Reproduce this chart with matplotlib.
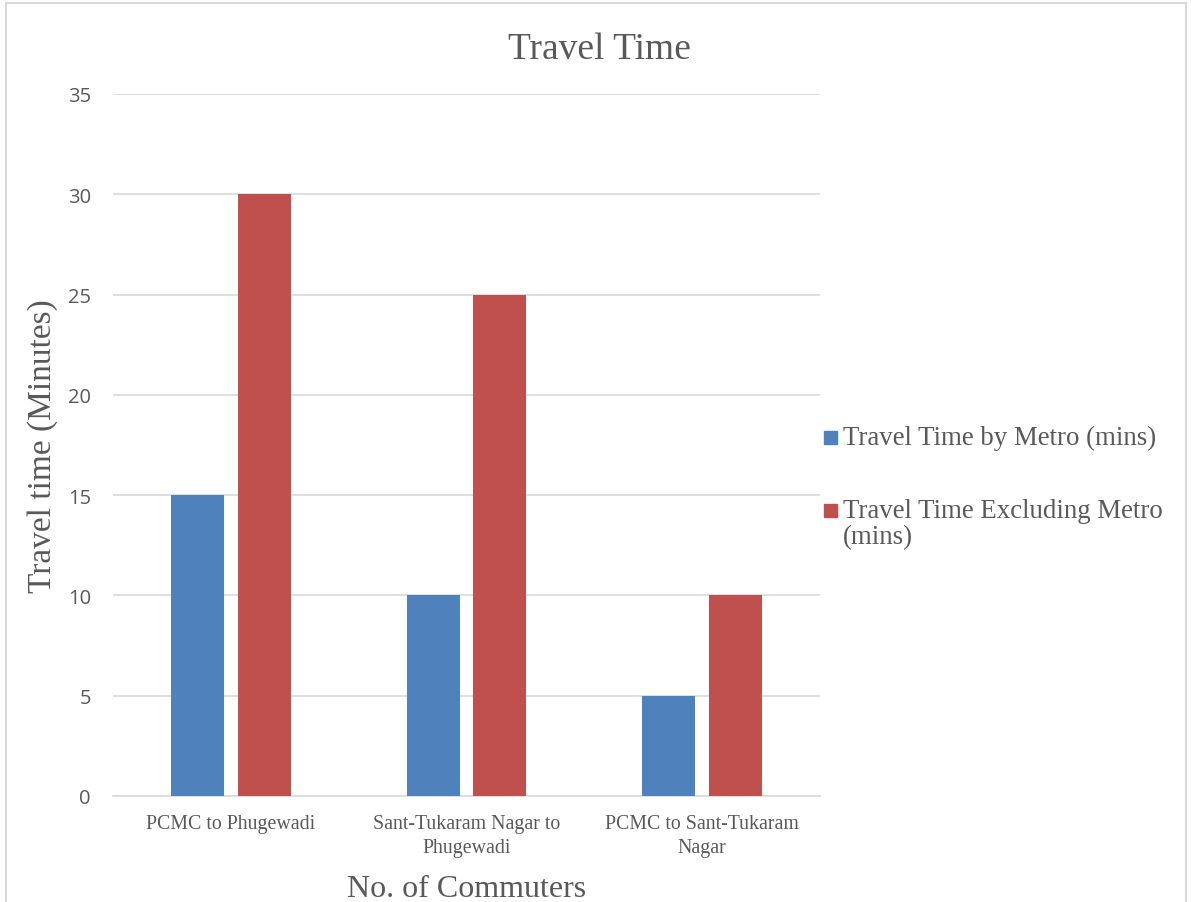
import numpy as np
import matplotlib.pyplot as plt
from matplotlib.lines import Line2D
from matplotlib.patches import Rectangle

categories = ["PCMC to Phugewadi", "Sant-Tukaram Nagar to\nPhugewadi", "PCMC to Sant-Tukaram\nNagar"]
metro = [15, 10, 5]
no_metro = [30, 25, 10]
series_names = ["Travel Time by Metro (mins)", "Travel Time Excluding Metro\n(mins)"]
yticks = [0, 5, 10, 15, 20, 25, 30, 35]

txt = '#595959'
grid_c = '#D9D9D9'
colors = ['#4F81BD', '#C0504D']
serif = 'Liberation Serif'
W, H = 1191, 903

fig = plt.figure(figsize=(W / 100, H / 100), dpi=100)
ax = fig.add_axes([0.0949, 0.1174, 0.5936, 0.7774])

x = np.arange(len(categories))
w = 0.225
off = 0.142
ax.bar(x - off, metro, w, color=colors[0], label=series_names[0], zorder=3)
ax.bar(x + off, no_metro, w, color=colors[1], label=series_names[1], zorder=3)

ax.set_xlim(-0.5, 2.5)
ax.set_ylim(0, 35)
ax.set_yticks(yticks)
ax.yaxis.grid(True, color=grid_c, lw=1.2, zorder=0)
for s in ['top', 'right', 'left']:
    ax.spines[s].set_visible(False)
ax.spines['bottom'].set_color(grid_c)
ax.spines['bottom'].set_linewidth(1.2)
ax.tick_params(length=0)
ax.tick_params(axis='y', labelsize=14.5, labelcolor=txt, pad=16)
ax.tick_params(axis='x', pad=13)
for lab in ax.get_yticklabels():
    lab.set_fontfamily('Open Sans')
ax.set_xticks(x)
ax.set_xticklabels(categories, fontfamily=serif, fontsize=14.3, color=txt, linespacing=1.35)

ax.set_ylabel("Travel time (Minutes)", fontfamily=serif, fontsize=24, color=txt, labelpad=7)
ax.set_xlabel("No. of Commuters", fontfamily=serif, fontsize=23, color=txt, labelpad=12)
fig.text(599 / W, 1 - 59 / H, "Travel Time", fontfamily=serif, fontsize=27, color=txt,
         ha='center', va='baseline')

# legend, laid out by hand (pixel rows)
rows = [438, 511]
for name, col, yc in zip(series_names, colors, rows):
    fig.add_artist(Rectangle((824 / W, 1 - (yc + 6.5) / H), 13 / W, 13 / H,
                             transform=fig.transFigure, color=col))
    for k, line in enumerate(name.split('\n')):
        fig.text(843 / W, 1 - (yc + 26.5 * k) / H, line, fontfamily=serif, fontsize=19.4,
                 color=txt, ha='left', va='center')

# chart border
fig.add_artist(Line2D([6 / W, 6 / W], [0, 1 - 4 / H], color=grid_c, lw=1.5))
fig.add_artist(Line2D([6 / W, 1186 / W], [1 - 4 / H, 1 - 4 / H], color=grid_c, lw=1.5))
fig.add_artist(Line2D([1186 / W, 1186 / W], [0, 1 - 4 / H], color=grid_c, lw=1.5))

fig.savefig('out.png', dpi=100)
